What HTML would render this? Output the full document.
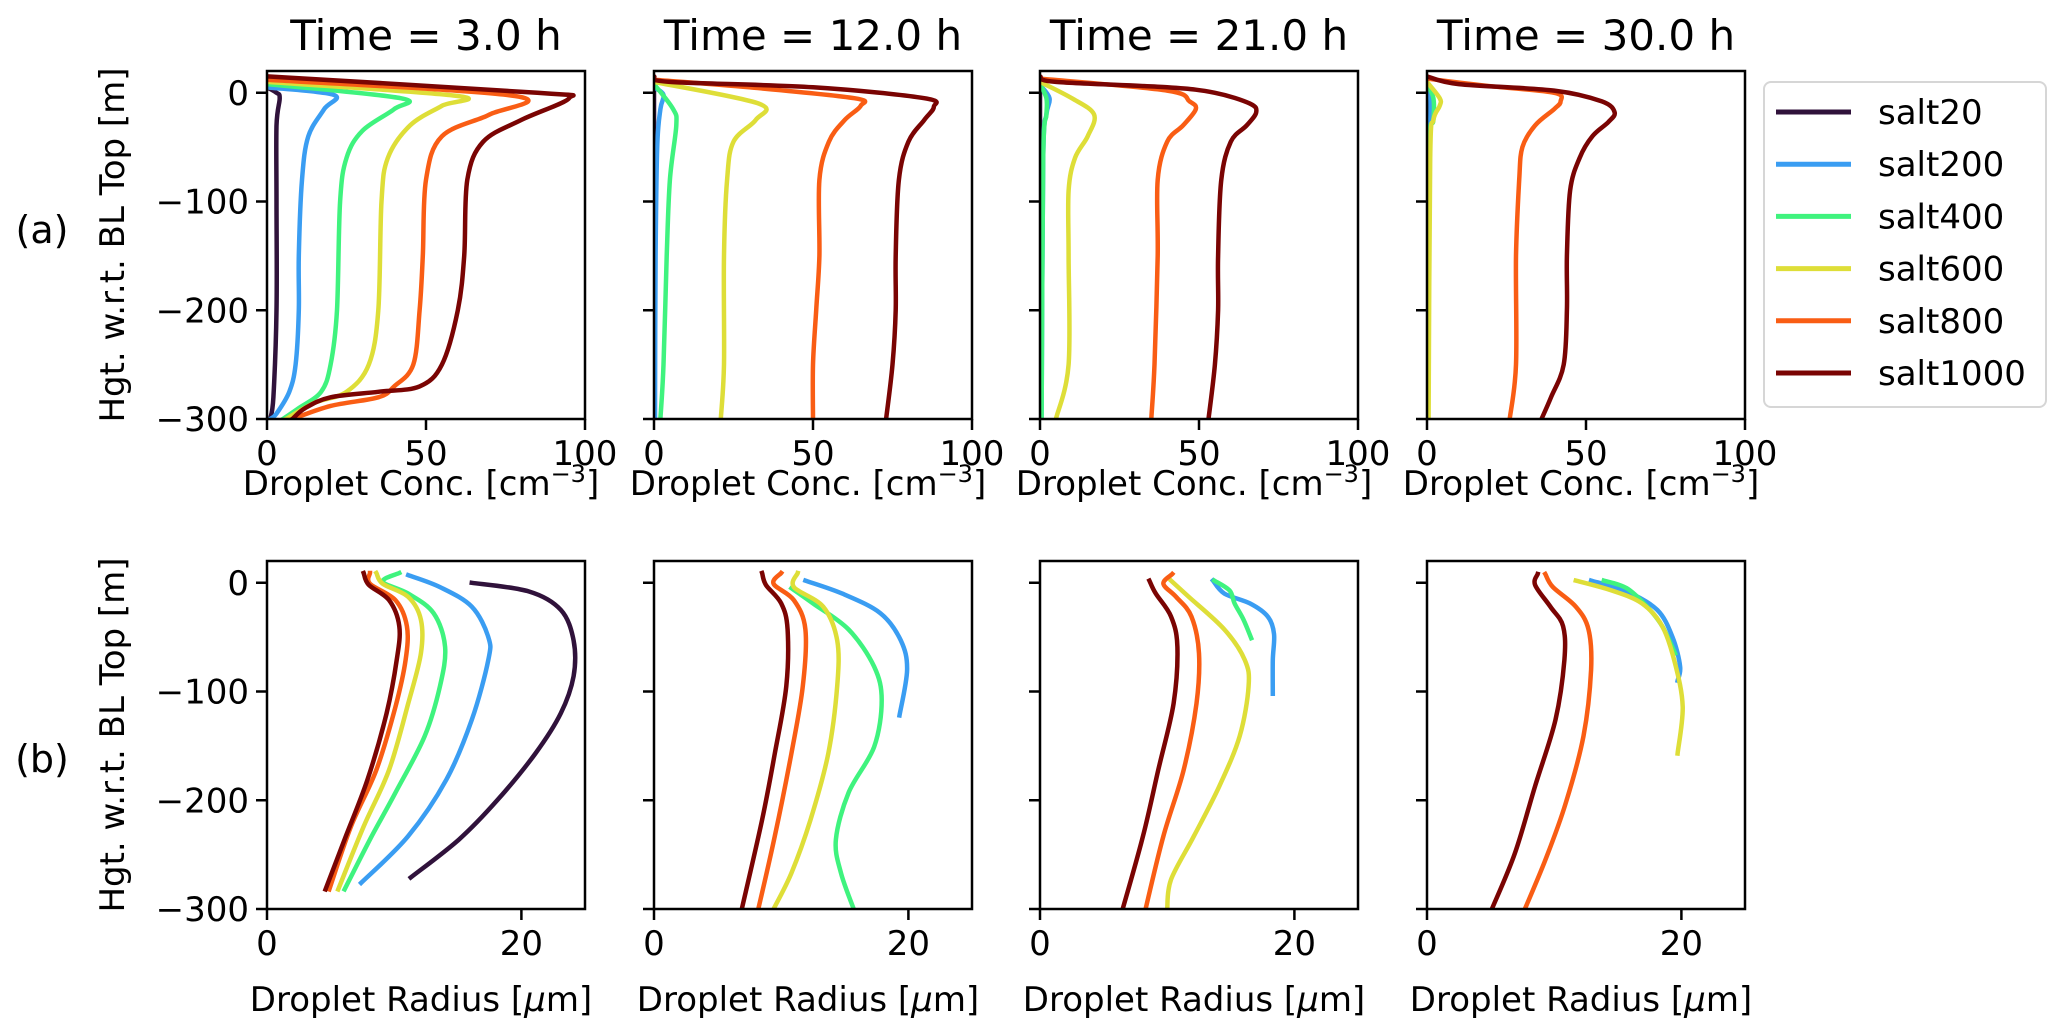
<!DOCTYPE html>
<html><head><meta charset="utf-8"><style>
html,body{margin:0;padding:0;background:#fff;}
svg{display:block;font-family:"DejaVu Sans","Liberation Sans",sans-serif;}
</style></head><body>
<svg id="fig" width="2067" height="1036" viewBox="0 0 2067 1036" xmlns="http://www.w3.org/2000/svg"></svg>
<script>
const seriesNames = ["salt20","salt200","salt400","salt600","salt800","salt1000"];
const seriesColors = ["#30123b","#3a9df2","#3ff37e","#dede38","#f95d14","#7a0403"];
const timeTitles = ["Time = 3.0 h","Time = 12.0 h","Time = 21.0 h","Time = 30.0 h"];
const concTicks = [0,50,100];
const radTicks = [0,20];
const hTicks = [0,-100,-200,-300];

const conc_t3 = [
 [[0,5],[3,0],[4,-5],[3,-30],[3,-100],[3,-200],[2,-280],[1,-300]],
 [[0,5],[21,-2],[18,-15],[13,-40],[11,-80],[10,-150],[10,-200],[9,-250],[7,-275],[3,-295],[1,-300]],
 [[0,8],[42,-5],[40,-15],[30,-35],[25,-60],[23,-100],[22,-200],[20,-250],[17,-275],[10,-290],[5,-300]],
 [[0,10],[60,-3],[55,-12],[45,-30],[38,-60],[36,-100],[35,-200],[32,-250],[25,-275],[15,-285],[6,-300]],
 [[0,12],[78,-3],[70,-20],[55,-40],[50,-80],[49,-150],[48,-200],[46,-250],[40,-270],[35,-280],[20,-288],[8,-300]],
 [[0,15],[85,0],[95,-5],[80,-25],[68,-45],[63,-80],[62,-150],[60,-200],[55,-250],[48,-270],[35,-275],[20,-280],[12,-290],[8,-300]]
];
const conc_t12 = [
 [[0,5],[0,-300]],
 [[0,5],[3,-2],[2,-15],[1,-50],[0.5,-150],[0.3,-300]],
 [[0,8],[6,-15],[7,-30],[5,-80],[4,-150],[3,-250],[2,-300]],
 [[0,10],[33,-10],[32,-25],[25,-45],[23,-80],[22,-150],[22,-250],[21,-300]],
 [[0,12],[30,5],[63,-5],[65,-12],[60,-25],[55,-45],[52,-80],[52,-150],[51,-200],[50,-250],[50,-300]],
 [[0,15],[5,10],[50,5],[85,-5],[88,-13],[85,-25],[80,-45],[77,-80],[76,-150],[76,-200],[75,-250],[73,-300]]
];
const conc_t21 = [
 [[0,5],[0,-300]],
 [[0,7],[3,-5],[2,-20],[1,-60],[0.5,-300]],
 [[0,8],[2,-5],[2,-20],[1,-60],[0.5,-300]],
 [[0,10],[10,-5],[17,-20],[15,-40],[11,-60],[9,-90],[9,-150],[9,-250],[5,-300]],
 [[0,13],[40,2],[47,-8],[49,-15],[45,-30],[40,-45],[37,-80],[37,-150],[36,-250],[35,-300]],
 [[0,15],[5,10],[40,5],[55,0],[66,-10],[68,-18],[65,-30],[60,-45],[57,-80],[56,-150],[56,-200],[55,-250],[53,-300]]
];
const conc_t30 = [
 [[0,5],[0,-300]],
 [[0,7],[1,-5],[1,-25],[0.3,-60],[0.2,-300]],
 [[0,8],[2,-5],[2,-25],[0.5,-60],[0.2,-300]],
 [[0,10],[4,-5],[4,-12],[2,-25],[1,-60],[0.5,-300]],
 [[0,13],[20,6],[40,0],[42,-8],[40,-15],[34,-30],[30,-50],[29,-80],[28,-150],[28,-250],[26,-300]],
 [[0,15],[10,8],[40,2],[55,-8],[59,-18],[57,-27],[52,-40],[48,-60],[45,-90],[44,-150],[44,-200],[43,-250],[39,-280],[36,-300]]
];
const rad_t3 = [
 [[16.1,0],[20.6,-8],[23.1,-25],[24.1,-53],[24.1,-86],[23.1,-120],[21.1,-157],[18.1,-200],[15.1,-236],[11.3,-271]],
 [[11.1,7],[13.6,-4],[16.1,-22],[17.4,-50],[17.4,-71],[16.1,-126],[14.1,-181],[11.1,-233],[7.4,-276]],
 [[10.4,9],[9.1,1],[11.1,-10],[13.1,-28],[14,-59],[13.6,-95],[12.4,-141],[10.1,-193],[8.1,-236],[6.1,-282]],
 [[8.6,9],[9.1,-1],[11.1,-13],[12.1,-34],[12.1,-65],[11.1,-111],[9.6,-172],[7.6,-224],[5.6,-282]],
 [[8.1,9],[8.1,-1],[10.1,-16],[11,-40],[10.9,-71],[10.1,-114],[8.6,-172],[6.6,-224],[4.9,-282]],
 [[7.6,9],[8,-2],[9.6,-16],[10.4,-40],[10.2,-71],[9.4,-120],[7.9,-181],[6.1,-236],[4.6,-282]]
];
const rad_t12 = [
 [],
 [[11.9,2],[14.8,-10],[17.8,-28],[19.4,-53],[19.9,-80],[19.3,-122]],
 [[10.8,-5],[12.5,-19],[15.3,-43],[17.3,-77],[17.9,-108],[17.3,-151],[15.3,-193],[14.3,-236],[14.7,-267],[15.7,-300]],
 [[11.3,9],[11,-4],[13.3,-22],[14.4,-53],[14.4,-95],[13.7,-157],[12.3,-218],[10.8,-267],[9.4,-300]],
 [[10,9],[9.4,-1],[11,-16],[11.9,-43],[11.7,-95],[10.8,-157],[9.5,-233],[8.2,-300]],
 [[8.5,9],[8.8,-2],[10,-19],[10.5,-43],[10.4,-95],[9.5,-157],[8.5,-218],[6.9,-300]]
];
const rad_t21 = [
 [],
 [[13.6,2],[14.5,-10],[16.5,-19],[17.9,-31],[18.4,-47],[18.3,-71],[18.3,-102]],
 [[13.7,2],[14.9,-7],[15.3,-19],[16,-34],[16.6,-51]],
 [[10.3,2],[11.7,-13],[14.5,-43],[16.1,-71],[16.4,-95],[15.7,-141],[14.1,-187],[12.1,-233],[10.3,-273],[10,-300]],
 [[10.4,8],[9.7,-1],[10.7,-13],[11.9,-31],[12.5,-65],[12.3,-111],[11.3,-172],[9.7,-233],[8.3,-300]],
 [[8.6,2],[9.1,-10],[10.3,-31],[10.8,-59],[10.5,-111],[9.3,-172],[8.1,-233],[6.5,-300]]
];
const rad_t30 = [
 [],
 [[12.9,2],[15.7,-8],[18.1,-25],[19.3,-50],[19.9,-77],[19.7,-90]],
 [[13.9,2],[15.7,-5],[17.3,-22],[18.5,-40],[19.5,-65]],
 [[11.7,2],[14.5,-7],[16.9,-19],[18.5,-40],[19.5,-74],[20.1,-114],[19.7,-157]],
 [[9.3,8],[9.9,-4],[11.7,-22],[12.7,-43],[12.9,-80],[12.3,-141],[10.9,-203],[9.3,-255],[7.7,-300]],
 [[8.7,8],[8.5,-2],[9.7,-22],[10.7,-40],[10.8,-71],[10.1,-126],[8.5,-187],[6.9,-249],[5.1,-300]]
];
const concData = [conc_t3, conc_t12, conc_t21, conc_t30];
const radData = [rad_t3, rad_t12, rad_t21, rad_t30];

const NS = "http://www.w3.org/2000/svg";
const svg = document.getElementById("fig");
function mk(tag, attrs, parent){ const e=document.createElementNS(NS,tag); for(const k in attrs) e.setAttribute(k,attrs[k]); (parent||svg).appendChild(e); return e; }

const panelX = [267, 654, 1040, 1427], panelW = 318;
const rows = [{top:71,bottom:419,xmax:100,ticks:concTicks,data:concData,label:"conc",labelDy:76},
              {top:561,bottom:909,xmax:25,ticks:radTicks,data:radData,label:"radius",labelDy:102}];
const yMin=-300, yMax=20;

function pathFrom(pts){
  if(pts.length<2) return "";
  let d="M"+pts[0][0].toFixed(1)+","+pts[0][1].toFixed(1);
  for(let i=0;i<pts.length-1;i++){
    const p0=pts[i-1]||pts[i], p1=pts[i], p2=pts[i+1], p3=pts[i+2]||p2;
    const c1=[p1[0]+(p2[0]-p0[0])/6, p1[1]+(p2[1]-p0[1])/6];
    const c2=[p2[0]-(p3[0]-p1[0])/6, p2[1]-(p3[1]-p1[1])/6];
    d+=` C${c1[0].toFixed(1)},${c1[1].toFixed(1)} ${c2[0].toFixed(1)},${c2[1].toFixed(1)} ${p2[0].toFixed(1)},${p2[1].toFixed(1)}`;
  }
  return d;
}

rows.forEach((row, ri)=>{
  const ys = v => row.bottom - (v - yMin)/(yMax - yMin)*(row.bottom-row.top);
  panelX.forEach((px, ci)=>{
    const xs = v => px + v/row.xmax*panelW;
    const g = mk("g",{});
    
    
    const clipId = "clip"+ri+ci;
    const cp = mk("clipPath",{id:clipId},g); mk("rect",{x:px,y:row.top,width:panelW,height:row.bottom-row.top},cp);
    const lines = mk("g",{"clip-path":`url(#${clipId})`},g);
    row.data[ci].forEach((ser, si)=>{
      if(!ser.length) return;
      const pts = ser.map(p=>[xs(p[0]), ys(p[1])]);
      const p = mk("path",{d:pathFrom(pts),fill:"none",stroke:seriesColors[si],"stroke-width":4.5,"stroke-linejoin":"round","stroke-linecap":"square"},lines);
      
      
    });
    const frame = mk("rect",{x:px,y:row.top,width:panelW,height:row.bottom-row.top,fill:"none",stroke:"#000","stroke-width":2.5},g);
    
    
    row.ticks.forEach(t=>{
      const x=xs(t);
      mk("line",{x1:x,y1:row.bottom,x2:x,y2:row.bottom+11,stroke:"#000","stroke-width":2.5},g);
      const tl = mk("text",{x:x,y:row.bottom+46,"font-size":34,"text-anchor":"middle",fill:"#000"},g);
      tl.textContent=String(t);
      
      
    });
    hTicks.forEach(t=>{
      const y=ys(t);
      mk("line",{x1:px-11,y1:y,x2:px,y2:y,stroke:"#000","stroke-width":2.5},g);
      if(ci===0){
        const tl = mk("text",{x:px-18,y:y+12,"font-size":34,"text-anchor":"end",fill:"#000"},g);
        tl.textContent=(t<0?"\u2212"+(-t):String(t));
        
        
      }
    });
    const xl = mk("text",{x:px+panelW/2-5,y:row.bottom+row.labelDy,"font-size":34,"text-anchor":"middle",fill:"#000"},g);
    if(ri===0){ xl.innerHTML='Droplet Conc. [cm<tspan dy="-13" font-size="24">\u22123</tspan><tspan dy="13">]</tspan>'; }
    else { xl.innerHTML='Droplet Radius [<tspan font-style="italic">\u03bc</tspan>m]'; }
    
    
    if(ri===0){
      const tt = mk("text",{x:px+panelW/2,y:50,"font-size":42,"text-anchor":"middle",fill:"#000"},g);
      tt.textContent=timeTitles[ci];
      
      
    }
  });
  const cy=(row.top+row.bottom)/2;
  const yl = mk("text",{x:0,y:0,"font-size":34,"text-anchor":"middle",fill:"#000",transform:`translate(124,${cy}) rotate(-90)`});
  yl.textContent="Hgt. w.r.t. BL Top [m]";
  
  
  const rl = mk("text",{x:42,y:(ri===0?243:772),"font-size":38,"text-anchor":"middle",fill:"#000"});
  rl.textContent = ri===0?"(a)":"(b)";
  
  
});

const lg = mk("g",{});


mk("rect",{x:1764,y:82,width:282,height:325,rx:7,fill:"#fff",stroke:"#d6d6d6","stroke-width":2},lg);
seriesNames.forEach((n,i)=>{
  const y=112+i*52.2;
  const ln = mk("line",{x1:1776,y1:y,x2:1851,y2:y,stroke:seriesColors[i],"stroke-width":5},lg);
  
  
  const t = mk("text",{x:1878,y:y+12,"font-size":34,fill:"#000"},lg);
  t.textContent=n;
  
  
});
</script>
</body></html>
